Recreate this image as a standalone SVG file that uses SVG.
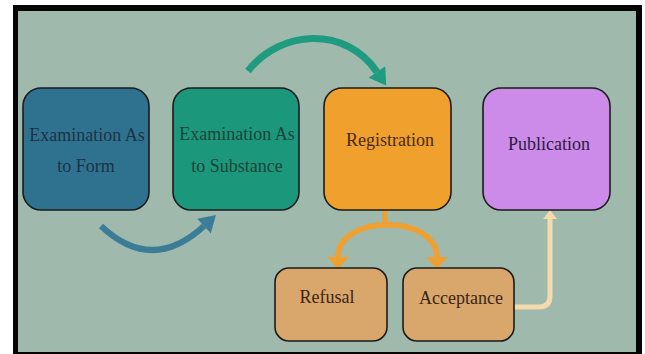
<svg xmlns="http://www.w3.org/2000/svg" width="645" height="354" viewBox="0 0 645 354">
  <style>
    .box { stroke: #1b1b1b; stroke-width: 1.6; }
    .lbl { font-family: "Liberation Serif", "Times New Roman", serif; font-size: 18px; text-anchor: middle; }
    .conn { fill: none; }
  </style>
  <defs>
    <marker id="headBlue" markerUnits="userSpaceOnUse" markerWidth="20" markerHeight="20" refX="0" refY="8" viewBox="0 0 14 16" orient="auto">
      <path d="M0,0 L13,8 L0,16 Z" fill="#3b7c97"/>
    </marker>
    <marker id="headTeal" markerUnits="userSpaceOnUse" markerWidth="20" markerHeight="20" refX="0" refY="8" viewBox="0 0 14 16" orient="auto">
      <path d="M0,0 L13,8 L0,16 Z" fill="#1f9b7f"/>
    </marker>
    <marker id="headOrange" markerUnits="userSpaceOnUse" markerWidth="22" markerHeight="22" refX="0" refY="10" viewBox="0 0 12 20" orient="auto-start-reverse">
      <path d="M0,0 L11,10 L0,20 Z" fill="#f0a030"/>
    </marker>
    <marker id="headCream" markerUnits="userSpaceOnUse" markerWidth="18" markerHeight="18" refX="0" refY="7.5" viewBox="0 0 10 15" orient="auto">
      <path d="M0,0 L9,7.5 L0,15 Z" fill="#f4dbad"/>
    </marker>
  </defs>

  <!-- page and frame -->
  <rect x="0" y="0" width="645" height="354" fill="#ffffff"/>
  <rect x="13" y="5" width="629" height="349" fill="#050505"/>
  <rect x="18" y="11" width="618" height="341" fill="#9fb9ac"/>

  <!-- connectors -->
  <g id="connectors">
    <path class="conn" d="M101,226 Q152,274 204,226" stroke="#3b7c97" stroke-width="6" marker-end="url(#headBlue)"/>
    <path class="conn" d="M248,71 C280,30 345,25 377,72" stroke="#1f9b7f" stroke-width="7" marker-end="url(#headTeal)"/>
    <path class="conn" d="M385,210 V226" stroke="#f0a030" stroke-width="5"/>
    <path class="conn" d="M338,257 C338,214 437,214 437,257" stroke="#f0a030" stroke-width="5.5" marker-start="url(#headOrange)" marker-end="url(#headOrange)"/>
    <path class="conn" d="M514,307 H539 Q550,307 550,296 V219" stroke="#f4dbad" stroke-width="5"/>
    <path d="M543,219 L550,210 L557,219 Z" fill="#f4dbad"/>
  </g>

  <!-- nodes -->
  <g id="form">
    <rect class="box" x="23" y="88" width="126" height="122" rx="18" fill="#2f7290"/>
    <text class="lbl" x="87" y="141" fill="#1c3343">Examination As</text>
    <text class="lbl" x="86" y="172" fill="#1c3343">to Form</text>
  </g>
  <g id="substance">
    <rect class="box" x="173" y="88" width="126" height="122" rx="18" fill="#1b977c"/>
    <text class="lbl" x="237" y="140" fill="#1c4438">Examination As</text>
    <text class="lbl" x="237" y="172" fill="#1c4438">to Substance</text>
  </g>
  <g id="registration">
    <rect class="box" x="324" y="88" width="127" height="122" rx="18" fill="#f0a02d"/>
    <text class="lbl" x="390" y="146" fill="#4a2a10">Registration</text>
  </g>
  <g id="publication">
    <rect class="box" x="483" y="88" width="127" height="122" rx="18" fill="#cc8be9"/>
    <text class="lbl" x="549" y="150" fill="#2d1a42">Publication</text>
  </g>
  <g id="refusal">
    <rect class="box" x="275" y="268" width="112" height="73" rx="14" fill="#d9a66b"/>
    <text class="lbl" x="327" y="303" fill="#3a2614">Refusal</text>
  </g>
  <g id="acceptance">
    <rect class="box" x="403" y="268" width="111" height="73" rx="14" fill="#d9a66b"/>
    <text class="lbl" x="461" y="304" fill="#3a2614">Acceptance</text>
  </g>
</svg>
